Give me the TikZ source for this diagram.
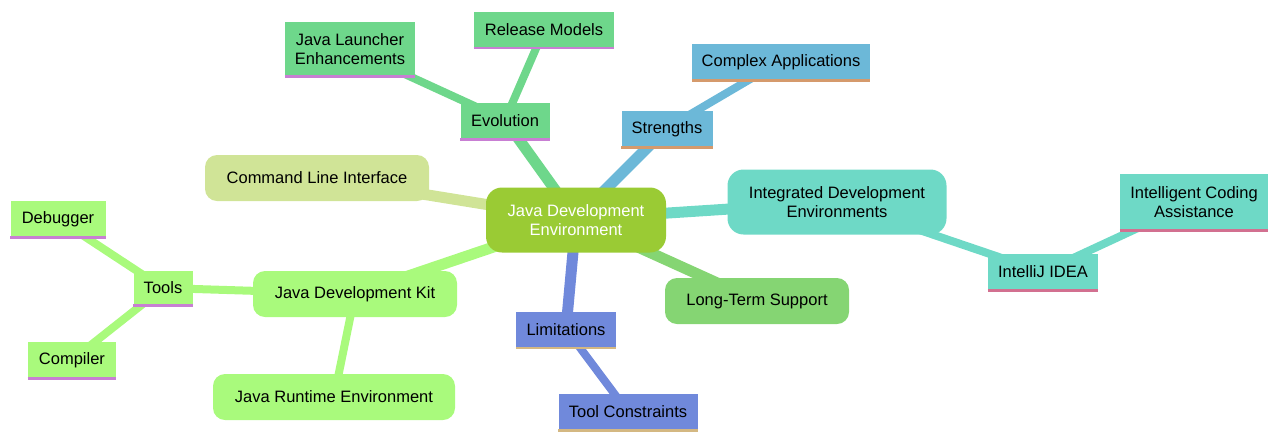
\documentclass[tikz,border=0pt]{standalone}
\usepackage{fontspec}
\setmainfont{Liberation Sans}
\begin{document}
\begin{tikzpicture}[x=1pt,y=-1pt,
  every node/.style={font=\fontsize{16.5}{18.5}\selectfont,align=center,inner sep=0pt},
  box/.style={minimum height=27,fill=#1},
  pill/.style={minimum height=34,rounded corners=12,fill=#1},
  e/.style={line width=11,draw=#1},
  ee/.style={line width=8,draw=#1},
  ul/.style={line width=2.5,draw=#1}]
\useasboundingbox (0,0) rectangle (1280,440);
\definecolor{cRoot}{HTML}{9ACB34}
\definecolor{cEvo}{HTML}{6ED78B}
\definecolor{cStr}{HTML}{6CB8D8}
\definecolor{cIde}{HTML}{6ED9C6}
\definecolor{cLts}{HTML}{85D573}
\definecolor{cLim}{HTML}{7089DB}
\definecolor{cJdk}{HTML}{A9FA7C}
\definecolor{cCli}{HTML}{D0E497}
\definecolor{cPink}{HTML}{C87FD3}
\definecolor{cOr}{HTML}{D59A6C}
\definecolor{cRed}{HTML}{D27090}
\definecolor{cTan}{HTML}{D4B882}
\coordinate (pR) at (576,219);
\draw[e=cEvo] (pR) -- (505,120);
\draw[ee=cEvo] (505,120) -- (350,49);
\draw[ee=cEvo] (505,120) -- (544,30);
\draw[e=cStr] (pR) -- (667,128);
\draw[ee=cStr] (667,128) -- (781,61);
\draw[e=cIde] (pR) -- (837,202);
\draw[ee=cIde] (837,202) -- (1043,272);
\draw[ee=cIde] (1043,272) -- (1194,202);
\draw[e=cLts] (pR) -- (757,301);
\draw[e=cLim] (pR) -- (566,329);
\draw[ee=cLim] (566,329) -- (628,412);
\draw[e=cJdk] (pR) -- (355,294);
\draw[ee=cJdk] (355,294) -- (334,397);
\draw[ee=cJdk] (355,294) -- (163,288);
\draw[ee=cJdk] (163,288) -- (58,219);
\draw[ee=cJdk] (163,288) -- (72,360);
\draw[e=cCli] (pR) -- (317,177);
\node[pill=cRoot,minimum width=180,minimum height=65,rounded corners=16,text=white] (root) at (576,220) {Java Development\\Environment};
\node[box=cEvo,minimum width=89,minimum height=37] (evo) at (505,121) {Evolution};
\node[box=cEvo,minimum width=130,minimum height=55] (jle) at (350,49) {Java Launcher\\Enhancements};
\node[box=cEvo,minimum width=140,minimum height=36] (rm) at (544,30) {Release Models};
\node[box=cStr,minimum width=91,minimum height=37] (str) at (667,129) {Strengths};
\node[box=cStr,minimum width=178,minimum height=37] (ca) at (781,62) {Complex Applications};
\node[pill=cIde,minimum width=219,minimum height=65,rounded corners=16] (ide) at (837,202) {Integrated Development\\Environments};
\node[box=cIde,minimum width=110,minimum height=37] (ij) at (1043,272) {IntelliJ IDEA};
\node[box=cIde,minimum width=148,minimum height=57] (ica) at (1194,202) {Intelligent Coding\\Assistance};
\node[pill=cLts,minimum width=184,minimum height=46] (lts) at (757,301) {Long-Term Support};
\node[box=cLim,minimum width=100,minimum height=36] (lim) at (566,330) {Limitations};
\node[box=cLim,minimum width=139,minimum height=37] (tc) at (628,412) {Tool Constraints};
\node[pill=cJdk,minimum width=204,minimum height=46] (jdk) at (355,294) {Java Development Kit};
\node[pill=cJdk,minimum width=242,minimum height=46] (jre) at (334,397) {Java Runtime Environment};
\node[box=cJdk,minimum width=59,minimum height=35] (tools) at (163,288) {Tools};
\node[box=cJdk,minimum width=95,minimum height=37] (dbg) at (58,219) {Debugger};
\node[box=cJdk,minimum width=88,minimum height=37] (cmp) at (72,360) {Compiler};
\node[pill=cCli,minimum width=224,minimum height=46] (cli) at (317,178) {Command Line Interface};
\draw[ul=cPink] (evo.south west) -- (evo.south east);
\draw[ul=cPink] (jle.south west) -- (jle.south east);
\draw[ul=cPink] (rm.south west) -- (rm.south east);
\draw[ul=cOr] (str.south west) -- (str.south east);
\draw[ul=cOr] (ca.south west) -- (ca.south east);
\draw[ul=cRed] (ij.south west) -- (ij.south east);
\draw[ul=cRed] (ica.south west) -- (ica.south east);
\draw[ul=cTan] (lim.south west) -- (lim.south east);
\draw[ul=cTan] (tc.south west) -- (tc.south east);
\draw[ul=cPink] (tools.south west) -- (tools.south east);
\draw[ul=cPink] (dbg.south west) -- (dbg.south east);
\draw[ul=cPink] (cmp.south west) -- (cmp.south east);
\end{tikzpicture}
\end{document}
